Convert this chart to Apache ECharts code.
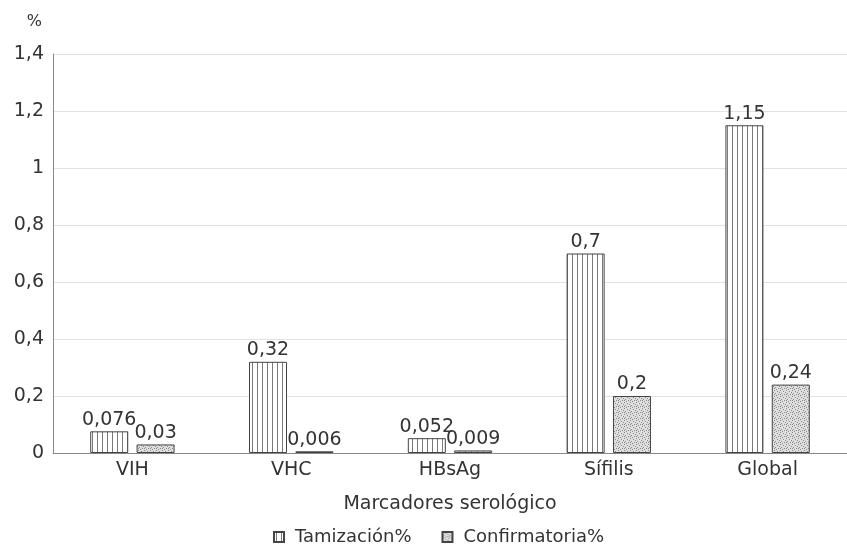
<!DOCTYPE html>
<html>
<head>
<meta charset="utf-8">
<script src="https://cdn.jsdelivr.net/npm/echarts@6/dist/echarts.min.js"></script>
<style>
  html, body { margin: 0; padding: 0; background: #fff; }
  #chart { width: 847px; height: 550px; }
</style>
</head>
<body>
<div id="chart"></div>
<script>
const categories = ['VIH', 'VHC', 'HBsAg', 'Sífilis', 'Global'];
const tamizacion = [0.076, 0.32, 0.052, 0.7, 1.15];
const confirmatoria = [0.03, 0.006, 0.009, 0.2, 0.24];
const seriesNames = ['Tamización%', 'Confirmatoria%'];

const FONT = 'DejaVu Sans';
const TEXT = '#333';

// vertical stripes
function stripePattern() {
  const c = document.createElement('canvas');
  c.width = 5; c.height = 5;
  const ctx = c.getContext('2d');
  ctx.fillStyle = '#fff';
  ctx.fillRect(0, 0, 5, 5);
  ctx.fillStyle = '#7a7a7a';
  ctx.fillRect(2, 0, 1, 5);
  return c;
}

// stipple
function dotPattern() {
  const c = document.createElement('canvas');
  c.width = 6; c.height = 6;
  const ctx = c.getContext('2d');
  ctx.fillStyle = '#dedede';
  ctx.fillRect(0, 0, 6, 6);
  ctx.fillStyle = '#8c8c8c';
  const dots = [[0, 0], [3, 1], [1, 3], [4, 4], [5, 2], [2, 5], [0, 4]];
  dots.forEach(d => ctx.fillRect(d[0], d[1], 1, 1));
  return c;
}

const fmt = v => String(v).replace('.', ',');

const myChart = echarts.init(document.getElementById('chart'));
const option = {
  animation: false,
  textStyle: { fontFamily: FONT },
  grid: {
    left: 53,
    top: 54,
    width: 810,
    height: 399,
  },
  legend: {
    bottom: -1,
    left: 268,
    itemWidth: 10,
    itemHeight: 10,
    itemGap: 30,
    icon: 'rect',
    textStyle: { fontFamily: FONT, fontSize: 18, color: TEXT, padding: [0, 0, 0, 6] },
    data: seriesNames,
  },
  xAxis: {
    type: 'category',
    data: categories,
    name: 'Marcadores serológico',
    nameLocation: 'middle',
    nameGap: 42,
    nameTextStyle: { fontFamily: FONT, fontSize: 19, color: TEXT },
    axisLine: { lineStyle: { color: '#888' } },
    axisTick: { show: false },
    axisLabel: { fontFamily: FONT, fontSize: 19, color: TEXT, margin: 8 },
  },
  yAxis: {
    type: 'value',
    min: 0,
    max: 1.4,
    interval: 0.2,
    name: '%',
    nameLocation: 'end',
    nameGap: 24,
    nameTextStyle: { fontFamily: FONT, fontSize: 16, color: TEXT, align: 'right', padding: [0, 11, 0, 0] },
    axisLine: { show: true, lineStyle: { color: '#888' } },
    axisTick: { show: false },
    axisLabel: {
      fontFamily: FONT,
      fontSize: 19,
      color: TEXT,
      margin: 9,
      formatter: v => fmt(+v.toFixed(1)),
    },
    splitLine: { lineStyle: { color: '#e2e2e2' } },
  },
  series: [
    {
      name: seriesNames[0],
      type: 'bar',
      data: tamizacion,
      barWidth: 38,
      barGap: '22%',
      itemStyle: {
        color: { image: stripePattern(), repeat: 'repeat' },
        borderColor: '#444',
        borderWidth: 1,
      },
      label: {
        show: true,
        position: 'top',
        distance: 2,
        fontFamily: FONT,
        fontSize: 19,
        color: TEXT,
        formatter: p => fmt(p.value),
      },
    },
    {
      name: seriesNames[1],
      type: 'bar',
      data: confirmatoria,
      barWidth: 38,
      itemStyle: {
        color: { image: dotPattern(), repeat: 'repeat' },
        borderColor: '#444',
        borderWidth: 1,
      },
      label: {
        show: true,
        position: 'top',
        distance: 2,
        fontFamily: FONT,
        fontSize: 19,
        color: TEXT,
        formatter: p => fmt(p.value),
      },
    },
  ],
};
myChart.setOption(option);
</script>
</body>
</html>
